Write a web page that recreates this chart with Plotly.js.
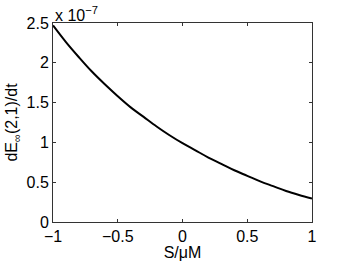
<!DOCTYPE html>
<html>
<head>
<meta charset="utf-8">
<script src="https://cdn.plot.ly/plotly-3.0.1.min.js"></script>
<style>html,body{margin:0;padding:0;background:#fff;}#chart{width:346px;height:261px;}</style>
</head>
<body>
<div id="chart"></div>
<script>
// S/uM values
const sValues = [-1.0,-0.9,-0.8,-0.7,-0.6,-0.5,-0.4,-0.3,-0.2,-0.1,0.0,0.1,0.2,0.3,0.4,0.5,0.6,0.7,0.8,0.9,1.0];
// dE_inf(2,1)/dt in units of 1e-7
const rateValues = [2.47,2.26,2.07,1.89,1.73,1.58,1.44,1.32,1.20,1.09,0.99,0.90,0.81,0.73,0.65,0.58,0.51,0.45,0.39,0.34,0.295];
const yScale = 1e-7;
const yTickVals = [0,0.5,1,1.5,2,2.5];
const yTickText = ['0','0.5','1','1.5','2','2.5'];
const xTickVals = [-1,-0.5,0,0.5,1];
const xTickText = ['\u22121','\u22120.5','0','0.5','1'];

const font = {family:'Liberation Sans', size:16, color:'#000'};

const trace = {
  x: sValues,
  y: rateValues.map(v => v*yScale),
  type:'scatter', mode:'lines',
  line:{color:'#000', width:2, shape:'spline', smoothing:1},
  hoverinfo:'skip'
};

const axisCommon = {
  showgrid:false, zeroline:false, showline:true, linecolor:'#333', linewidth:1,
  mirror:'ticks', ticks:'inside', ticklen:3, tickcolor:'#333', tickwidth:1,
  tickfont: font
};

const layout = {
  width:346, height:261,
  margin:{l:53, r:34, t:23, b:39},
  paper_bgcolor:'#fff', plot_bgcolor:'#fff',
  font: font,
  showlegend:false,
  xaxis: Object.assign({}, axisCommon, {
    range:[-1,1], tickvals:xTickVals, ticktext:xTickText,
    title:{text:'S/\u03bcM', font:font, standoff:0}
  }),
  yaxis: Object.assign({}, axisCommon, {
    range:[0,2.5*yScale], tickvals:yTickVals.map(v=>v*yScale), ticktext:yTickText,
    title:{text:'dE<sub>\u221e</sub>(2,1)/dt', font:font, standoff:4}
  }),
  annotations:[{
    xref:'paper', yref:'paper', x:0, y:1, xanchor:'left', yanchor:'bottom',
    text:'x 10<sup>\u22127</sup>', showarrow:false, font:font, xshift:0, yshift:-3
  }]
};

Plotly.newPlot('chart',[trace],layout,{staticPlot:true, displayModeBar:false});
</script>
</body>
</html>
